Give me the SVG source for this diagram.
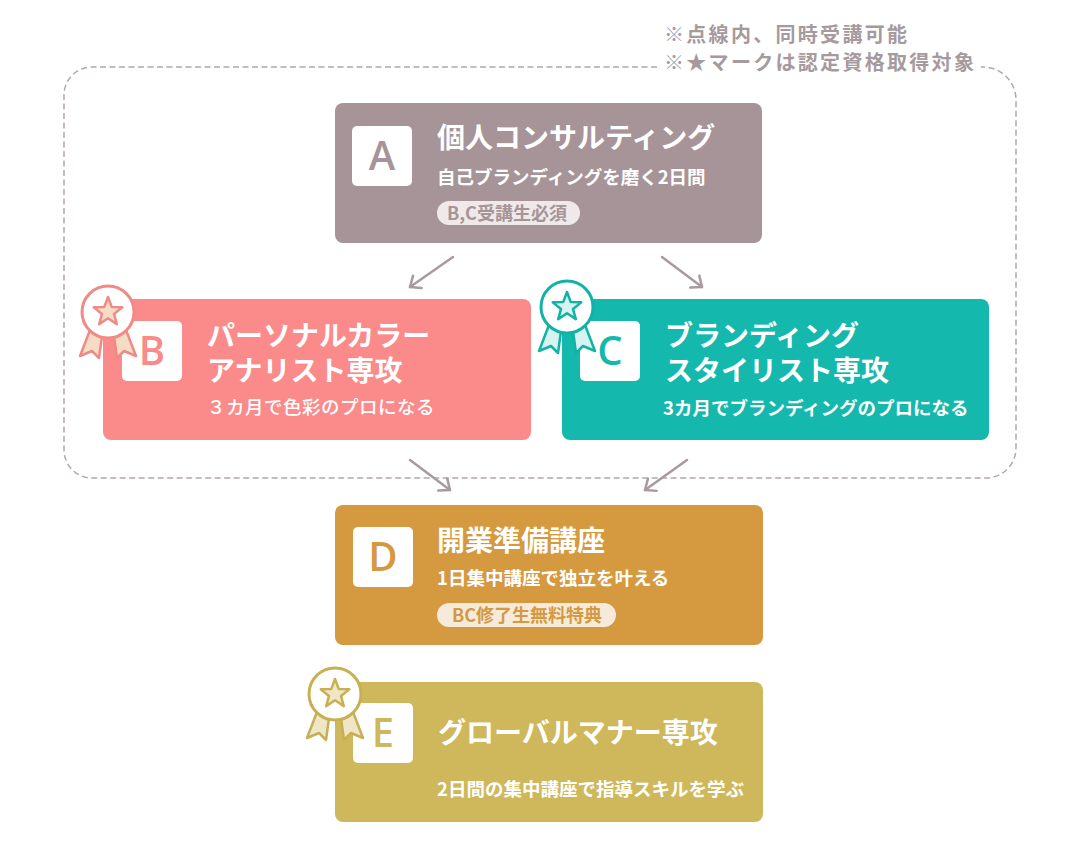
<svg xmlns="http://www.w3.org/2000/svg" width="1080" height="850" viewBox="0 0 1080 850">
<style>
.note{font-family:"Noto Sans CJK JP","Noto Sans",sans-serif;font-size:20px;font-weight:700;fill:#a59a9e;letter-spacing:2.3px}
.title{font-family:"Noto Sans CJK JP","Noto Sans",sans-serif;font-size:28px;font-weight:700;fill:#ffffff}
.sub{font-family:"Noto Sans CJK JP","Noto Sans",sans-serif;font-size:18.5px;font-weight:700;fill:#ffffff}
.subl{font-family:"Noto Sans CJK JP","Noto Sans",sans-serif;font-size:18.5px;font-weight:500;fill:#ffffff;letter-spacing:0.5px}
.pilltxt{font-family:"Noto Sans CJK JP","Noto Sans",sans-serif;font-size:18px;font-weight:700}
.letter{font-family:"Open Sans","Liberation Sans",sans-serif;font-size:40px;font-weight:600;text-anchor:middle}
.box{fill:#ffffff}
.conn{fill:none;stroke:#a89a9e;stroke-width:2.5;stroke-linecap:round}
.frame{fill:none;stroke:#b3a7ab;stroke-width:1.5;stroke-dasharray:6 3.5}
.ring{fill:#ffffff;stroke-width:3}
.bpart{stroke-width:2.5;stroke-linejoin:round}
</style>
<defs>
<marker id="arr" markerUnits="userSpaceOnUse" markerWidth="24" markerHeight="24" refX="0" refY="0" viewBox="-12 -12 24 24" orient="auto">
<path d="M -9 -7.5 L 0 0 L -9 7.5" fill="none" stroke="#a89a9e" stroke-width="2.5" stroke-linecap="round" stroke-linejoin="round"/>
</marker>
<path id="star" d="M0,-15 L3.7,-5.1 L14.27,-4.64 L5.99,1.95 L8.82,12.14 L0,6.3 L-8.82,12.14 L-5.99,1.95 L-14.27,-4.64 L-3.7,-5.1 Z"/>
<path id="ribL" d="M-18,18 L-6,24 L-9,46 L-16,39 L-28,44 Z"/>
<path id="ribR" d="M18,18 L6,24 L9,46 L16,39 L28,44 Z"/>
</defs>

<g id="frame">
<path class="frame" d="M 657 67 H 92 A 28 28 0 0 0 64 95 V 450 A 28 28 0 0 0 92 478 H 986 A 30 30 0 0 0 1016 448 V 100 A 33 33 0 0 0 983 67 H 981"/>
</g>

<g id="notes">
<text class="note" x="664" y="42">※点線内、同時受講可能</text>
<text class="note" x="664" y="70">※★マークは認定資格取得対象</text>
</g>

<g id="connectors">
<line class="conn" x1="453" y1="257" x2="410" y2="287" marker-end="url(#arr)"/>
<line class="conn" x1="662" y1="257" x2="702" y2="287" marker-end="url(#arr)"/>
<line class="conn" x1="410" y1="460" x2="450" y2="490" marker-end="url(#arr)"/>
<line class="conn" x1="687" y1="460" x2="645" y2="490" marker-end="url(#arr)"/>
</g>

<g id="node-A">
<rect x="335" y="103" width="427" height="140" rx="8" fill="#a69498"/>
<rect class="box" x="352" y="126" width="60" height="60" rx="5"/>
<text class="letter" x="382" y="170" fill="#a69498">A</text>
<text class="title" x="437" y="148">個人コンサルティング</text>
<text class="sub" x="437" y="184">自己ブランディングを磨く2日間</text>
<rect x="437" y="201" width="143" height="24" rx="12" fill="#efe9ea"/>
<text class="pilltxt" x="447" y="220" fill="#a69498">B,C受講生必須</text>
</g>

<g id="node-B">
<rect x="103" y="299" width="428" height="141" rx="8" fill="#fa8b8a"/>
<rect class="box" x="122" y="321" width="60" height="60" rx="5"/>
<text class="letter" x="152" y="365" fill="#fa8b8a">B</text>
<text class="title" x="207" y="346">パーソナルカラー<tspan x="207" dy="35">アナリスト専攻</tspan></text>
<text class="subl" x="207" y="414">３カ月で色彩のプロになる</text>
<g id="badge-B" transform="translate(108,312)">
<use href="#ribL" class="bpart" fill="#f7dcc5" stroke="#f08a87"/>
<use href="#ribR" class="bpart" fill="#f7dcc5" stroke="#f08a87"/>
<circle class="ring" cx="0" cy="0" r="26" stroke="#f08a87"/>
<use href="#star" class="bpart" fill="#f7dcc5" stroke="#f08a87"/>
</g>
</g>

<g id="node-C">
<rect x="562" y="299" width="427" height="141" rx="8" fill="#14b8ad"/>
<rect class="box" x="580" y="321" width="60" height="60" rx="5"/>
<text class="letter" x="610" y="365" fill="#14b8ad">C</text>
<text class="title" x="665" y="346">ブランディング<tspan x="665" dy="35">スタイリスト専攻</tspan></text>
<text class="sub" x="663" y="415">3カ月でブランディングのプロになる</text>
<g id="badge-C" transform="translate(567,307)">
<use href="#ribL" class="bpart" fill="#d7f3ef" stroke="#12b3a7"/>
<use href="#ribR" class="bpart" fill="#d7f3ef" stroke="#12b3a7"/>
<circle class="ring" cx="0" cy="0" r="26" stroke="#12b3a7"/>
<use href="#star" class="bpart" fill="#d7f3ef" stroke="#12b3a7"/>
</g>
</g>

<g id="node-D">
<rect x="335" y="505" width="428" height="140" rx="8" fill="#d5993f"/>
<rect class="box" x="353" y="527" width="60" height="60" rx="5"/>
<text class="letter" x="383" y="571" fill="#d5993f">D</text>
<text class="title" x="437" y="551">開業準備講座</text>
<text class="sub" x="437" y="585">1日集中講座で独立を叶える</text>
<rect x="437" y="603" width="179" height="24" rx="12" fill="#f6ebdb"/>
<text class="pilltxt" x="452" y="622" fill="#d5993f">BC修了生無料特典</text>
</g>

<g id="node-E">
<rect x="335" y="682" width="428" height="140" rx="8" fill="#cfb85b"/>
<rect class="box" x="353" y="703" width="60" height="60" rx="5"/>
<text class="letter" x="383" y="747" fill="#cfb85b">E</text>
<text class="title" x="438" y="743">グローバルマナー専攻</text>
<text class="sub" x="437" y="796">2日間の集中講座で指導スキルを学ぶ</text>
<g id="badge-E" transform="translate(335,694)">
<use href="#ribL" class="bpart" fill="#efe6c8" stroke="#c8b052"/>
<use href="#ribR" class="bpart" fill="#efe6c8" stroke="#c8b052"/>
<circle class="ring" cx="0" cy="0" r="26" stroke="#c8b052"/>
<use href="#star" class="bpart" fill="#efe6c8" stroke="#c8b052"/>
</g>
</g>
</svg>
